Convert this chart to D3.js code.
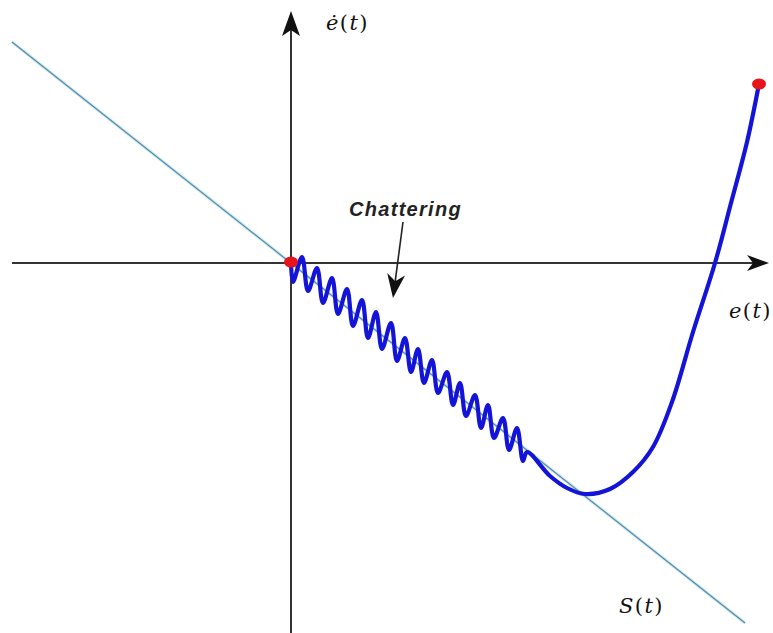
<!DOCTYPE html>
<html>
<head>
<meta charset="utf-8">
<script src="https://cdn.jsdelivr.net/npm/d3@7/dist/d3.min.js"></script>
<style>
  html, body { margin: 0; padding: 0; background: #fff; }
  svg { display: block; }
</style>
</head>
<body>
<script>
// Phase-plane trajectory of a sliding-mode controller: e(t) vs ė(t)

// Sliding surface S(t): ė = -λ e, drawn between two end points
const surfaceE    = [-2.79, 4.54];
const surfaceEdot = [ 2.21, -3.60];

// State trajectory (reaching phase on the right, chattering along S near the origin)
const trajE = [
  0.00, 0.02, 0.11, 0.17, 0.26, 0.32, 0.41, 0.47, 0.56, 0.62, 0.71, 0.77, 0.85, 0.91,
  1.00, 1.06, 1.14, 1.20, 1.27, 1.33, 1.41, 1.47, 1.56, 1.62, 1.69, 1.75, 1.84, 1.90,
  1.97, 2.03, 2.12, 2.18, 2.26, 2.32,
  2.36, 2.59, 2.76, 2.94, 3.19, 3.42, 3.62, 3.81, 4.02, 4.24, 4.40, 4.56, 4.68
];
const trajEdot = [
  0.01, -0.19, 0.06, -0.28, -0.05, -0.40, -0.15, -0.51, -0.26, -0.63, -0.37, -0.75, -0.49, -0.86,
  -0.60, -0.98, -0.75, -1.09, -0.86, -1.20, -0.97, -1.30, -1.09, -1.42, -1.20, -1.53, -1.32, -1.65,
  -1.42, -1.75, -1.55, -1.87, -1.65, -1.98,
  -1.89, -2.13, -2.25, -2.31, -2.26, -2.09, -1.84, -1.39, -0.69, 0.00, 0.60, 1.21, 1.79
];

// Start / end states of the trajectory
const markerE    = [0.00, 4.68];
const markerEdot = [0.01, 1.79];

// Axis extents
const axisE    = [-2.79, 4.78];
const axisEdot = [-3.70, 2.52];

// Text labels
const labelTexts = ["ė(t)", "e(t)", "S(t)"];
const labelE     = [0.35, 4.38, 3.28];
const labelEdot  = [2.33, -0.55, -3.50];
const noteText   = "Chattering";
const notePos    = [0.58, 0.47];
const noteArrow  = [[1.12, 0.41], [1.02, -0.35]];

const W = 773, H = 633;
const x = d3.scaleLinear().domain([-2.91, 4.82]).range([0, W]);
const y = d3.scaleLinear().domain([2.63, -3.70]).range([0, H]);

const svg = d3.select("body").append("svg")
  .attr("width", W).attr("height", H);

// Barbed arrowhead at (tx,ty) pointing along angle a
function arrowHead(tx, ty, a, len, half, notch) {
  const c = Math.cos(a), s = Math.sin(a);
  const bx = tx - c * len, by = ty - s * len;
  const nx = tx - c * (len - notch), ny = ty - s * (len - notch);
  const p = [
    [tx, ty],
    [bx - s * half, by + c * half],
    [nx, ny],
    [bx + s * half, by - c * half]
  ];
  return "M" + p.map(d => d.join(",")).join("L") + "Z";
}

// Axes
const axisColor = "#333";
svg.append("line")
  .attr("x1", x(axisE[0])).attr("x2", x(axisE[1]) - 8)
  .attr("y1", y(0)).attr("y2", y(0))
  .attr("stroke", axisColor).attr("stroke-width", 2);
svg.append("path")
  .attr("d", arrowHead(x(axisE[1]), y(0), 0, 22, 8, 6))
  .attr("fill", "#111");
svg.append("line")
  .attr("x1", x(0)).attr("x2", x(0))
  .attr("y1", y(axisEdot[0])).attr("y2", y(axisEdot[1]) + 8)
  .attr("stroke", axisColor).attr("stroke-width", 2);
svg.append("path")
  .attr("d", arrowHead(x(0), y(axisEdot[1]), -Math.PI / 2, 25, 9, 6))
  .attr("fill", "#111");

// Sliding surface (soft halo + thin line)
const surf = d3.line().x(d => x(d[0])).y(d => y(d[1]));
const surfPts = d3.zip(surfaceE, surfaceEdot);
svg.append("path").attr("d", surf(surfPts))
  .attr("fill", "none").attr("stroke", "#d3e8f1").attr("stroke-width", 3.2);
svg.append("path").attr("d", surf(surfPts))
  .attr("fill", "none").attr("stroke", "#4d8cab").attr("stroke-width", 1.2);

// Trajectory
const traj = d3.line()
  .x(d => x(d[0])).y(d => y(d[1]))
  .curve(d3.curveCatmullRom.alpha(0.5));
svg.append("path")
  .attr("d", traj(d3.zip(trajE, trajEdot)))
  .attr("fill", "none")
  .attr("stroke", "#1414d8")
  .attr("stroke-width", 4.2)
  .attr("stroke-linejoin", "round")
  .attr("stroke-linecap", "round");

// Start / end markers
svg.selectAll("ellipse.marker")
  .data(d3.zip(markerE, markerEdot))
  .join("ellipse")
  .attr("class", "marker")
  .attr("cx", d => x(d[0])).attr("cy", d => y(d[1]))
  .attr("rx", 7).attr("ry", 5.5)
  .attr("fill", "#e8141c");

// Math labels: italic letters, upright parentheses
const labels = svg.selectAll("text.lbl")
  .data(d3.zip(labelTexts, labelE, labelEdot))
  .join("text")
  .attr("class", "lbl")
  .attr("x", d => x(d[1])).attr("y", d => y(d[2]))
  .attr("font-family", "'DejaVu Serif', serif")
  .attr("font-size", 21)
  .attr("fill", "#111");
labels.each(function(d) {
  const t = d3.select(this);
  const s = d[0];
  const open = s.indexOf("(");
  t.append("tspan").attr("font-style", "italic").text(s.slice(0, open));
  t.append("tspan").attr("dx", 1.4).text("(");
  t.append("tspan").attr("dx", 1.4).attr("font-style", "italic").text(s.slice(open + 1, s.length - 1));
  t.append("tspan").attr("dx", 1.4).text(")");
});

// Chattering annotation
svg.append("text")
  .attr("x", x(notePos[0])).attr("y", y(notePos[1]))
  .attr("font-family", "'Liberation Sans', Arial, sans-serif")
  .attr("font-weight", "bold").attr("font-style", "italic")
  .attr("font-size", 20).attr("letter-spacing", 1.3)
  .attr("fill", "#222")
  .text(noteText);
const [a0, a1] = noteArrow;
const ang = Math.atan2(y(a1[1]) - y(a0[1]), x(a1[0]) - x(a0[0]));
svg.append("line")
  .attr("x1", x(a0[0])).attr("y1", y(a0[1]))
  .attr("x2", x(a1[0]) - Math.cos(ang) * 12).attr("y2", y(a1[1]) - Math.sin(ang) * 12)
  .attr("stroke", "#222").attr("stroke-width", 1.6);
svg.append("path")
  .attr("d", arrowHead(x(a1[0]), y(a1[1]), ang, 24, 9, 7))
  .attr("fill", "#111");
</script>
</body>
</html>
